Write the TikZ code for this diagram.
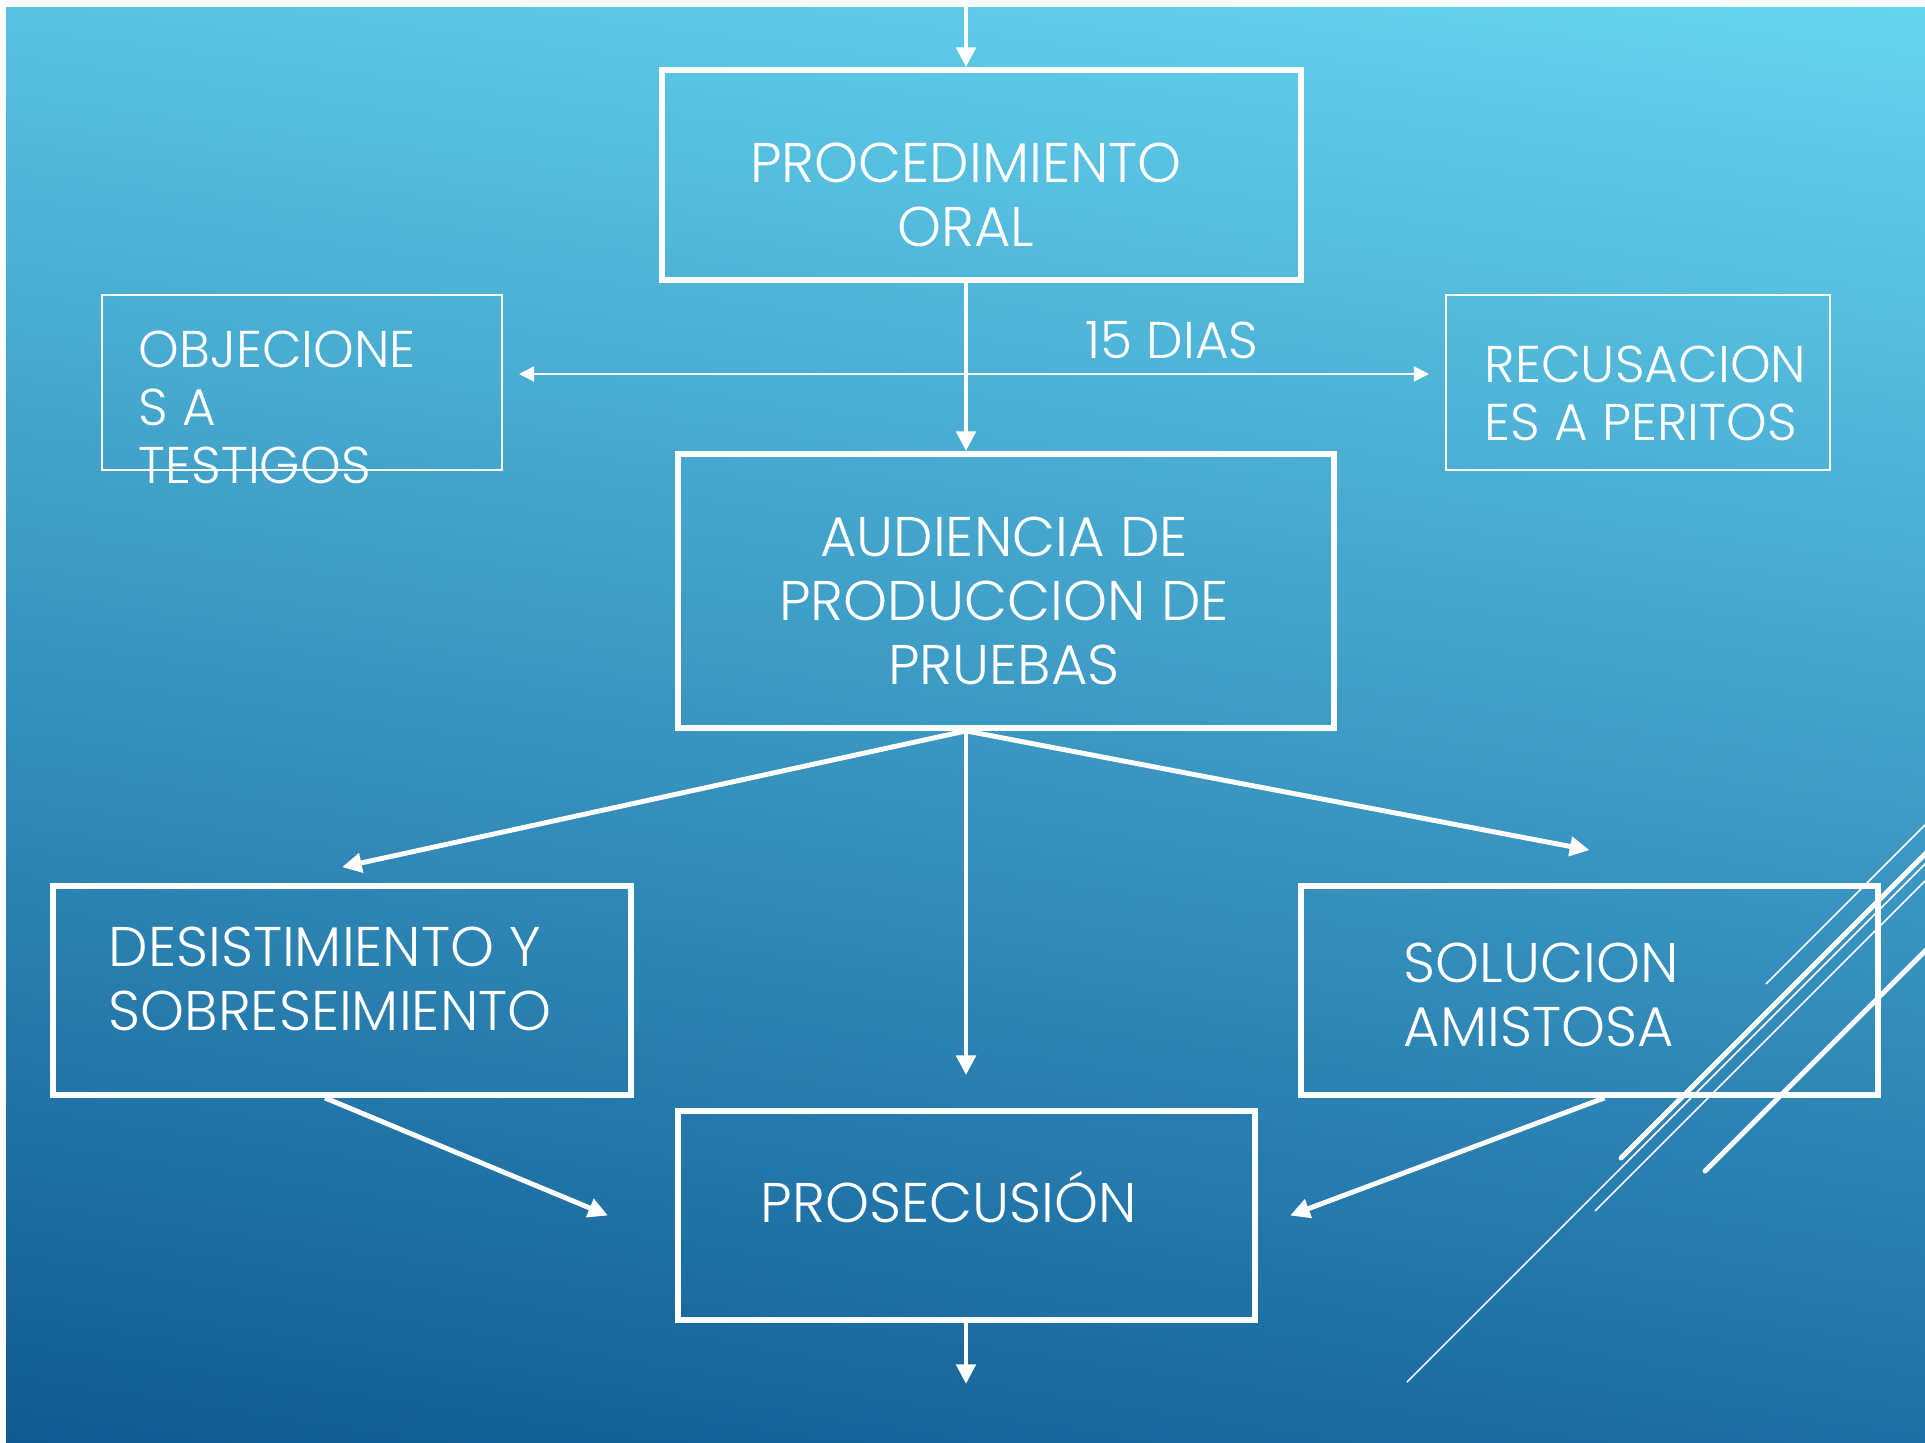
\documentclass[tikz,border=0pt]{standalone}
\usepackage{fontspec}
\setmainfont{Poppins}[UprightFont=* Light]
\usepackage{tikz}
\usetikzlibrary{
    arrows.meta,
    shadings,
    calc
}
\definecolor{fondoTL}{HTML}{58C2E2}
\definecolor{fondoTR}{HTML}{66D4EF}
\definecolor{fondoBL}{HTML}{0F5A92}
\definecolor{fondoBR}{HTML}{1E6FA5}
\tikzset{
    caja/.style={draw=white, line width=1.6pt, inner sep=0pt},
    cajita/.style={draw=white, line width=0.5pt, inner sep=0pt},
    textogrande/.style={text=white, inner sep=0pt, font=\fontsize{15.9}{18.2}\selectfont},
    textochico/.style={text=white, inner sep=0pt, font=\fontsize{14.7}{16.4}\selectfont},
    flecha/.style={draw=white, line width=1.4pt, -{Triangle[length=5.6pt, width=5.4pt]}},
    flechafina/.style={draw=white, line width=0.45pt, {Triangle[length=4.3pt, width=4.3pt]}-{Triangle[length=4.3pt, width=4.3pt]}},
    rayagruesa/.style={draw=white, line width=1.4pt, line cap=round},
    rayafina/.style={draw=white, line width=0.45pt}
}

\begin{document}
\begin{tikzpicture}[x=0.01cm, y=-0.01cm]
    \useasboundingbox (0,0) rectangle (1925,1442);
    \fill[white] (0,0) rectangle (1925,1442);
    \shade[upper left=fondoTL, upper right=fondoTR, lower left=fondoBL, lower right=fondoBR]
        (6,7) rectangle (1925,1442);

    \draw[rayafina] (1766,984) -- (1935,815);
    \draw[rayagruesa] (1621,1158) -- (1935,844);
    \draw[rayafina] (1595,1211) -- (1935,871);
    \draw[rayafina] (1407,1382) -- (1935,854);
    \draw[rayagruesa] (1705,1171) -- (1935,941);

    \node[caja, minimum width=6.39cm, minimum height=2.10cm] (oral) at (981.5,175) {};
    \node[caja, minimum width=6.56cm, minimum height=2.74cm] (aud) at (1006,591) {};
    \node[caja, minimum width=5.78cm, minimum height=2.09cm] (desist) at (342,990.5) {};
    \node[caja, minimum width=5.77cm, minimum height=2.09cm] (soluc) at (1589.5,990.5) {};
    \node[caja, minimum width=5.77cm, minimum height=2.09cm] (prosec) at (966.5,1215.5) {};
    \node[cajita, minimum width=4.00cm, minimum height=1.75cm] (objec) at (302,382.5) {};
    \node[cajita, minimum width=3.84cm, minimum height=1.75cm] (recus) at (1638,382.5) {};

    \node[textogrande, align=center, anchor=base] (oralT) at (966,246) {PROCEDIMIENTO\\ORAL};
    \node[textogrande, align=center, anchor=base] (audT) at (1004,684) {AUDIENCIA DE\\PRODUCCION DE\\PRUEBAS};
    \node[textogrande, align=left, anchor=base west] (desistT) at (108,1030) {DESISTIMIENTO Y\\SOBRESEIMIENTO};
    \node[textogrande, align=left, anchor=base west] (solucT) at (1403,1046) {SOLUCION\\AMISTOSA};
    \node[textogrande, anchor=base west] (prosecT) at (760,1222) {PROSECUSIÓN};
    \node[textochico, align=left, anchor=base west] (objecT) at (138,483) {OBJECIONE\\S A\\TESTIGOS};
    \node[textochico, align=left, anchor=base west] (recusT) at (1484,440) {RECUSACION\\ES A PERITOS};
    \node[textochico, anchor=base west] (dias) at (1085,358) {15 DIAS};

    \coordinate (eje) at (966,0);
    \coordinate (inicio) at (966,7);
    \coordinate (fin) at (966,1384);
    \coordinate (cruce) at (966,374);

    \draw[flecha] (inicio) -- (eje |- oral.north);
    \draw[flecha] (eje |- oral.south) -- (eje |- aud.north);
    \draw[flechafina, shorten <=0.16cm, shorten >=0.16cm] (objec.east |- cruce) -- (recus.west |- cruce);
    \draw[flecha] (eje |- aud.south) -- ([yshift=0.16cm]desist.north);
    \draw[flecha] (eje |- aud.south) -- ([yshift=0.33cm]soluc.north);
    \draw[flecha, shorten >=0.33cm] (eje |- aud.south) -- (eje |- prosec.north);
    \draw[flecha] ([xshift=-0.17cm]desist.south) -- ([xshift=-0.67cm]prosec.west);
    \draw[flecha] ([xshift=0.15cm]soluc.south) -- ([xshift=0.32cm]prosec.east);
    \draw[flecha] (eje |- prosec.south) -- (fin);
\end{tikzpicture}
\end{document}
